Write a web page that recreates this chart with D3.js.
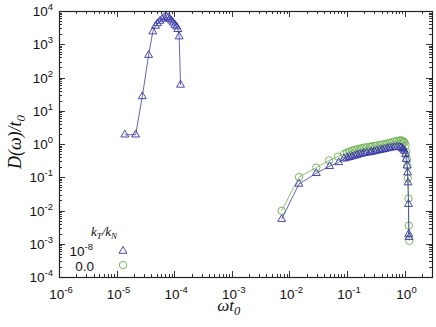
<!DOCTYPE html>
<html>
<head>
<meta charset="utf-8">
<script src="https://cdn.jsdelivr.net/npm/d3@7"></script>
<style>
  html, body { margin: 0; padding: 0; background: #fff; }
  svg { display: block; }
</style>
</head>
<body>
<svg id="chart" width="436" height="327"></svg>
<script>
// first peak, kT/kN = 1e-8 only
const peakOmega = [1.39e-5, 2.14e-5, 2.8e-5, 3.6e-5, 4.26e-5, 4.75e-5, 5.14e-5, 5.64e-5, 6.18e-5, 6.7e-5,
  7.38e-5, 7.86e-5, 8.4e-5, 9.0e-5, 9.6e-5, 1.03e-4, 1.1e-4, 1.16e-4, 1.22e-4, 1.29e-4];
const peakD = [1.9, 1.9, 27, 472, 2400, 3550, 4250, 5000, 5750, 6300,
  6600, 6300, 5750, 5100, 4450, 3820, 3400, 2830, 1700, 60];

// high-frequency branch, kT/kN = 1e-8 (triangles)
const triOmega = [7.36e-3, 1.47e-2, 2.94e-2, 5.0e-2, 7.2e-2, 8.9e-2,
  0.100, 0.111, 0.123, 0.136, 0.150, 0.166, 0.183, 0.20, 0.22, 0.25, 0.27, 0.30, 0.33, 0.37,
  0.41, 0.45, 0.50, 0.55, 0.61, 0.67, 0.74, 0.82, 0.87, 0.92, 0.96, 1.00, 1.04, 1.07,
  1.11, 1.13, 1.15, 1.17, 1.185, 1.20];
const triD = [5.5e-3, 0.063, 0.132, 0.215, 0.28, 0.36,
  0.38, 0.40, 0.42, 0.44, 0.465, 0.49, 0.51, 0.53, 0.545, 0.56, 0.58, 0.60, 0.625, 0.65,
  0.675, 0.70, 0.73, 0.76, 0.78, 0.80, 0.81, 0.80, 0.78, 0.74, 0.68, 0.62, 0.49, 0.35,
  0.223, 0.138, 0.069, 0.0155, 1.95e-3, 1.58e-3];

// high-frequency branch, kT/kN = 0 (circles)
const circOmega = [7.36e-3, 1.47e-2, 2.94e-2, 4.9e-2, 7.0e-2, 8.9e-2,
  0.100, 0.111, 0.123, 0.136, 0.150, 0.166, 0.183, 0.20, 0.22, 0.25, 0.27, 0.30, 0.33, 0.37,
  0.41, 0.45, 0.50, 0.55, 0.61, 0.67, 0.74, 0.82, 0.87, 0.92, 0.96, 1.00, 1.04, 1.07,
  1.10, 1.12, 1.14, 1.17, 1.19, 1.21];
const circD = [9.8e-3, 0.101, 0.195, 0.32, 0.417, 0.50,
  0.55, 0.59, 0.63, 0.665, 0.69, 0.72, 0.75, 0.78, 0.80, 0.82, 0.845, 0.87, 0.90, 0.93,
  0.96, 0.99, 1.03, 1.08, 1.13, 1.18, 1.23, 1.28, 1.28, 1.25, 1.18, 1.1, 0.91, 0.56,
  0.35, 0.22, 0.092, 0.023, 3.5e-3, 1.23e-3];

const xDecades = [-6, -5, -4, -3, -2, -1, 0];
const yDecades = [-4, -3, -2, -1, 0, 1, 2, 3, 4];
const legendLabels = ["10", "0.0"];

const blue = "#3434a4";
const green = "#6cae50";

const margin = { top: 11, right: 4, bottom: 50, left: 59 };
const W = 436, H = 327;
const width = W - margin.left - margin.right;
const height = H - margin.top - margin.bottom;

const svg = d3.select("#chart");
const g = svg.append("g").attr("transform", `translate(${margin.left},${margin.top})`);

const x = d3.scaleLog().domain([1e-6, 3]).range([0, width]);
const y = d3.scaleLog().domain([1e-4, 1e4]).range([height, 0]);

// ticks, all inward on four sides
const minorX = [], minorY = [];
xDecades.forEach(e => { for (let k = 2; k <= 9; k++) { const v = k * Math.pow(10, e); if (v <= 3) minorX.push(v); } });
yDecades.slice(0, -1).forEach(e => { for (let k = 2; k <= 9; k++) minorY.push(k * Math.pow(10, e)); });

const tickColor = "#333";
const major = 6, minor = 3;
const ticks = g.append("g").attr("stroke", tickColor).attr("stroke-width", 1);
xDecades.forEach(e => {
  const px = Math.round(x(Math.pow(10, e))) + 0.5;
  ticks.append("line").attr("x1", px).attr("x2", px).attr("y1", height).attr("y2", height - major);
  ticks.append("line").attr("x1", px).attr("x2", px).attr("y1", 0).attr("y2", major);
});
minorX.forEach(v => {
  const px = Math.round(x(v)) + 0.5;
  ticks.append("line").attr("x1", px).attr("x2", px).attr("y1", height).attr("y2", height - minor);
  ticks.append("line").attr("x1", px).attr("x2", px).attr("y1", 0).attr("y2", minor);
});
yDecades.forEach(e => {
  const py = Math.round(y(Math.pow(10, e))) + 0.5;
  ticks.append("line").attr("x1", 0).attr("x2", major).attr("y1", py).attr("y2", py);
  ticks.append("line").attr("x1", width).attr("x2", width - major).attr("y1", py).attr("y2", py);
});
minorY.forEach(v => {
  const py = Math.round(y(v)) + 0.5;
  ticks.append("line").attr("x1", 0).attr("x2", minor).attr("y1", py).attr("y2", py);
  ticks.append("line").attr("x1", width).attr("x2", width - minor).attr("y1", py).attr("y2", py);
});

g.append("rect").attr("x", 0.5).attr("y", 0.5).attr("width", width).attr("height", height)
  .attr("fill", "none").attr("stroke", "#222").attr("stroke-width", 1.2);

// tick labels
const sans = "'Liberation Sans', Arial, sans-serif";
xDecades.forEach(e => {
  const t = g.append("text").attr("x", x(Math.pow(10, e)) + 2).attr("y", height + 22)
    .attr("text-anchor", "middle").attr("font-family", sans).attr("font-size", 13.5).attr("fill", "#111");
  t.append("tspan").text("10");
  t.append("tspan").attr("font-size", 9.5).attr("dy", -6).text(String(e));
});
yDecades.forEach(e => {
  const t = g.append("text").attr("x", -6).attr("y", y(Math.pow(10, e)) + 5)
    .attr("text-anchor", "end").attr("font-family", sans).attr("font-size", 13.5).attr("fill", "#111");
  t.append("tspan").text("10");
  t.append("tspan").attr("font-size", 9.5).attr("dy", -6).text(String(e));
});

// axis titles
const serif = "'Liberation Serif', 'Times New Roman', serif";
const yl = svg.append("text")
  .attr("transform", `translate(21,${margin.top + y(1) - 2}) rotate(-90)`)
  .attr("text-anchor", "middle").attr("font-family", serif).attr("font-style", "italic")
  .attr("font-size", 18).attr("fill", "#111");
yl.append("tspan").text("D(ω)/t");
yl.append("tspan").attr("font-size", 13).attr("dy", 4).text("0");

const xl = svg.append("text").attr("x", margin.left + x(1e-3) - 3).attr("y", 311)
  .attr("text-anchor", "middle").attr("font-family", serif).attr("font-style", "italic")
  .attr("font-size", 17).attr("fill", "#111");
xl.append("tspan").text("ωt");
xl.append("tspan").attr("font-size", 12.5).attr("dy", 4).text("0");

// series
const line = d3.line().x(d => x(d[0])).y(d => y(d[1]));
const triPath = d3.symbol().type(d3.symbolTriangle).size(27);

function drawSeries(omega, D, color, kind) {
  const pts = omega.map((w, i) => [w, D[i]]);
  g.append("path").datum(pts).attr("d", line).attr("fill", "none")
    .attr("stroke", color).attr("stroke-width", 0.9).attr("stroke-opacity", 0.85);
  const sel = g.append("g").selectAll("g").data(pts).join("g")
    .attr("transform", d => `translate(${x(d[0])},${y(d[1])})`);
  if (kind === "tri") {
    sel.append("path").attr("d", triPath).attr("fill", "none").attr("stroke", color).attr("stroke-width", 0.9);
  } else {
    sel.append("circle").attr("r", 3.7).attr("fill", "none").attr("stroke", color).attr("stroke-width", 0.9);
  }
}
drawSeries(peakOmega, peakD, blue, "tri");
drawSeries(circOmega, circD, green, "circ");
drawSeries(triOmega, triD, blue, "tri");

// legend
const lg = svg.append("g");
const lt = lg.append("text").attr("x", 104).attr("y", 236).attr("text-anchor", "middle")
  .attr("font-family", serif).attr("font-style", "italic").attr("font-size", 13).attr("fill", "#111");
lt.append("tspan").text("k");
lt.append("tspan").attr("font-size", 9).attr("dy", 3).text("T");
lt.append("tspan").attr("dy", -3).text("/k");
lt.append("tspan").attr("font-size", 9).attr("dy", 3).text("N");

const l1 = lg.append("text").attr("x", 93).attr("y", 256).attr("text-anchor", "end")
  .attr("font-family", sans).attr("font-size", 13.5).attr("fill", "#111");
l1.append("tspan").text(legendLabels[0]);
l1.append("tspan").attr("font-size", 9.5).attr("dy", -6).text("-8");
lg.append("text").attr("x", 94).attr("y", 271).attr("text-anchor", "end")
  .attr("font-family", sans).attr("font-size", 13.5).attr("fill", "#111").text(legendLabels[1]);
lg.append("path").attr("d", triPath).attr("transform", "translate(123,251)")
  .attr("fill", "none").attr("stroke", blue).attr("stroke-width", 0.9);
lg.append("circle").attr("cx", 123).attr("cy", 265).attr("r", 3.7)
  .attr("fill", "none").attr("stroke", green).attr("stroke-width", 0.9);
</script>
</body>
</html>
